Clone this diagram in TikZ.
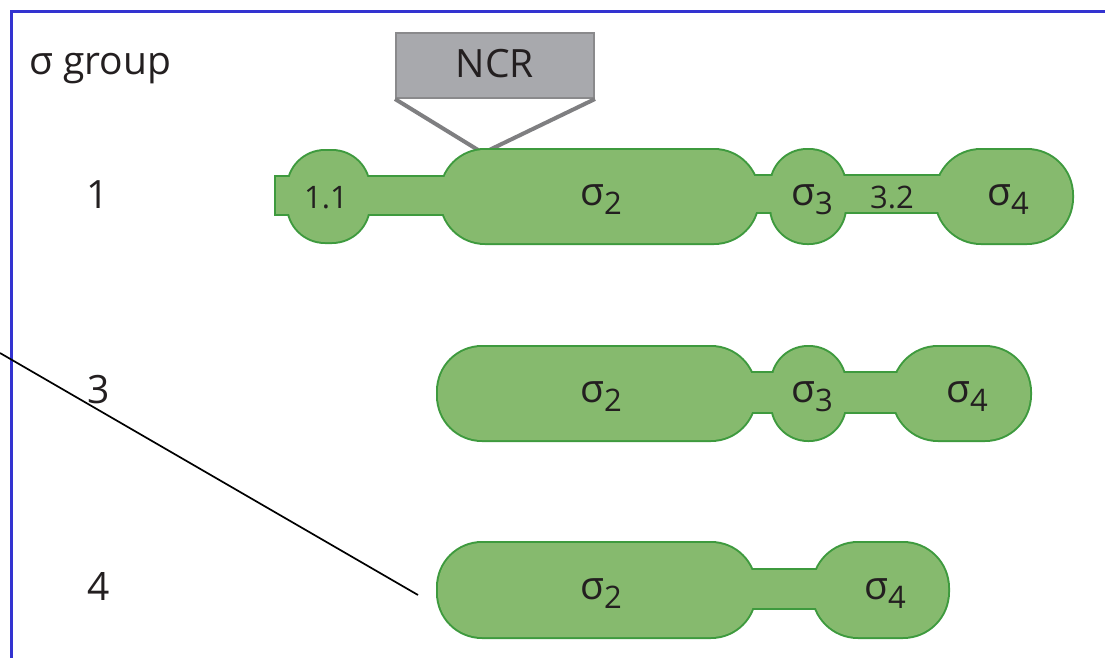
\documentclass[tikz,border=0pt]{standalone}
\usepackage{fontspec}
\setmainfont{Open Sans}
\definecolor{gfill}{HTML}{86BA6E}
\definecolor{gborder}{HTML}{3E9A3E}
\definecolor{ncrfill}{HTML}{A8A9AD}
\definecolor{ncrborder}{HTML}{8A8A8C}
\definecolor{ncrline}{HTML}{7F7F81}
\definecolor{frameblue}{HTML}{3333D0}
\definecolor{txt}{HTML}{231F20}
\newcommand\sg[1]{σ\raisebox{-0.24em}{\fontsize{31}{31}\selectfont #1}}
\newcommand\domainpieces{%
  % row 1
  \path[gshape] (276,177) rectangle (300,214);
  \path[gshape] (360,177) rectangle (452,214);
  \path[gshape] (740,176) rectangle (782,212);
  \path[gshape] (835,176) rectangle (946,212);
  \path[gshape,rounded corners=37] (288,151) rectangle (369,242);
  \path[gshape,rounded corners=44] (441,150) rectangle (758,243);
  \path[gshape,rounded corners=36] (771,150) rectangle (845,243);
  \path[gshape,rounded corners=45] (936,150) rectangle (1072,243);
  % row 2
  \path[gshape] (740,373) rectangle (782,412);
  \path[gshape] (835,373) rectangle (905,412);
  \path[gshape,rounded corners=44] (438,347) rectangle (755,440);
  \path[gshape,rounded corners=36] (772,347) rectangle (845,440);
  \path[gshape,rounded corners=45] (893,347) rectangle (1030,440);
  % row 3
  \path[gshape] (740,570) rectangle (825,608);
  \path[gshape,rounded corners=44] (438,543) rectangle (755,637);
  \path[gshape,rounded corners=45] (813,543) rectangle (948,637);
}
\begin{document}
\begin{tikzpicture}[x=1pt,y=-1pt,
  lbl/.style={font=\fontsize{39}{41}\selectfont, text=txt, inner sep=0pt, anchor=base},
  small/.style={font=\fontsize{31}{33}\selectfont, text=txt, inner sep=0pt, anchor=base},
  ncrbox/.style={draw=ncrborder, line width=2pt, fill=ncrfill, minimum width=198pt, minimum height=65pt, inner sep=0pt},
  ncrlink/.style={draw=ncrline, line width=4pt},
  stray/.style={draw=black, line width=1.7pt}]
\useasboundingbox (0,0) rectangle (1105,658);
% frame
\draw[frameblue, line width=3pt] (1106,12) -- (11,12) -- (11,659);
% NCR
\node[ncrbox] (ncr) at (495,65.5) {};
\node[lbl] (ncrtext) at (495,78) {NCR};
\coordinate (ncrpt) at (483,153);
\draw[ncrlink] (ncr.south west) -- (ncrpt) -- (ncr.south east);
% domains: outer border then fill to hide inner borders
\begin{scope}[gshape/.style={draw=gborder, line width=4pt, fill=gfill}]
\domainpieces
\end{scope}
\begin{scope}[gshape/.style={fill=gfill}]
\domainpieces
\end{scope}
% labels
\node[lbl] (title) at (100,75) {σ group};
\node[lbl] (g1) at (98,208) {1};
\node[lbl] (g3) at (99,403) {3};
\node[lbl] (g4) at (99,600) {4};
\node[small] (d11) at (326,208) {1.1};
\node[lbl] (r1s2) at (601,205) {\sg{2}};
\node[lbl] (r1s3) at (812,205) {\sg{3}};
\node[small] (d32) at (892,208) {3.2};
\node[lbl] (r1s4) at (1008,205) {\sg{4}};
\node[lbl] (r2s2) at (601,402) {\sg{2}};
\node[lbl] (r2s3) at (812,402) {\sg{3}};
\node[lbl] (r2s4) at (967,402) {\sg{4}};
\node[lbl] (r3s2) at (601,599) {\sg{2}};
\node[lbl] (r3s4) at (885,599) {\sg{4}};
% stray line
\coordinate (ls) at (0,353);
\coordinate (le) at (418,595);
\draw[stray] (ls) -- (le);
\end{tikzpicture}
\end{document}
